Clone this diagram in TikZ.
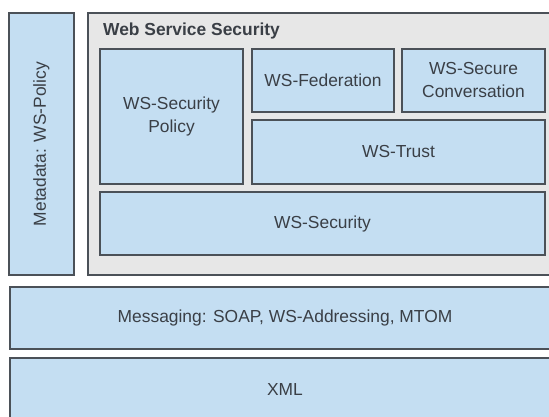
\documentclass[tikz,border=0pt]{standalone}
\usepackage{fontspec}
\setmainfont{Liberation Sans}
\definecolor{boxblue}{HTML}{C4DEF2}
\definecolor{outergray}{HTML}{E7E7E7}
\definecolor{bordc}{HTML}{4B5158}
\definecolor{txtc}{HTML}{3A3F46}
\tikzset{
  blk/.style={draw=bordc, fill=boxblue, line width=1.6pt, rectangle, inner sep=0pt,
    text=txtc, align=center, font=\fontsize{17.4}{23}\selectfont},
  outerblk/.style={draw=bordc, fill=outergray, line width=1.6pt, rectangle, inner sep=0pt},
  titletxt/.style={text=txtc, font=\fontsize{17.4}{20}\selectfont\bfseries, inner sep=0pt, anchor=west},
  sidetxt/.style={text=txtc, font=\fontsize{17.4}{20}\selectfont, inner sep=0pt, rotate=90}
}
\begin{document}
\begin{tikzpicture}[x=1pt, y=-1pt]
\useasboundingbox (0,0) rectangle (549,416);
\clip (0,0) rectangle (549,416);
\fill[white] (0,0) rectangle (549,416);
% left metadata column
\node[blk, minimum width=65pt, minimum height=262pt] (meta) at (41.5,144) {};
\node[sidetxt] (metalbl) at (meta.center) {Metadata: WS-Policy};
% web service security container
\node[outerblk, minimum width=472pt, minimum height=262pt] (wss) at (324,144) {};
\node[titletxt] (wsstitle) at (103,31) {Web Service Security};
\node[blk, minimum width=143pt, minimum height=135pt] (wssp) at (171.5,116.5) {\raisebox{3pt}{\shortstack{WS-Security\\[4pt]Policy}}};
\node[blk, minimum width=142pt, minimum height=63pt] (fed) at (323,80.5) {WS-Federation};
\node[blk, minimum width=143pt, minimum height=63pt] (conv) at (473.5,80.5) {WS-Secure\\Conversation};
\node[blk, minimum width=293pt, minimum height=64pt] (trust) at (398.5,152) {WS-Trust};
\node[blk, minimum width=445pt, minimum height=63pt] (sec) at (322.5,223.5) {WS-Security};
% lower layers
\node[blk, minimum width=550pt, minimum height=62pt] (msg) at (285,318) {Messaging: SOAP, WS-Addressing, MTOM};
\node[blk, minimum width=550pt, minimum height=64pt] (xml) at (285,390) {XML};
\end{tikzpicture}
\end{document}
